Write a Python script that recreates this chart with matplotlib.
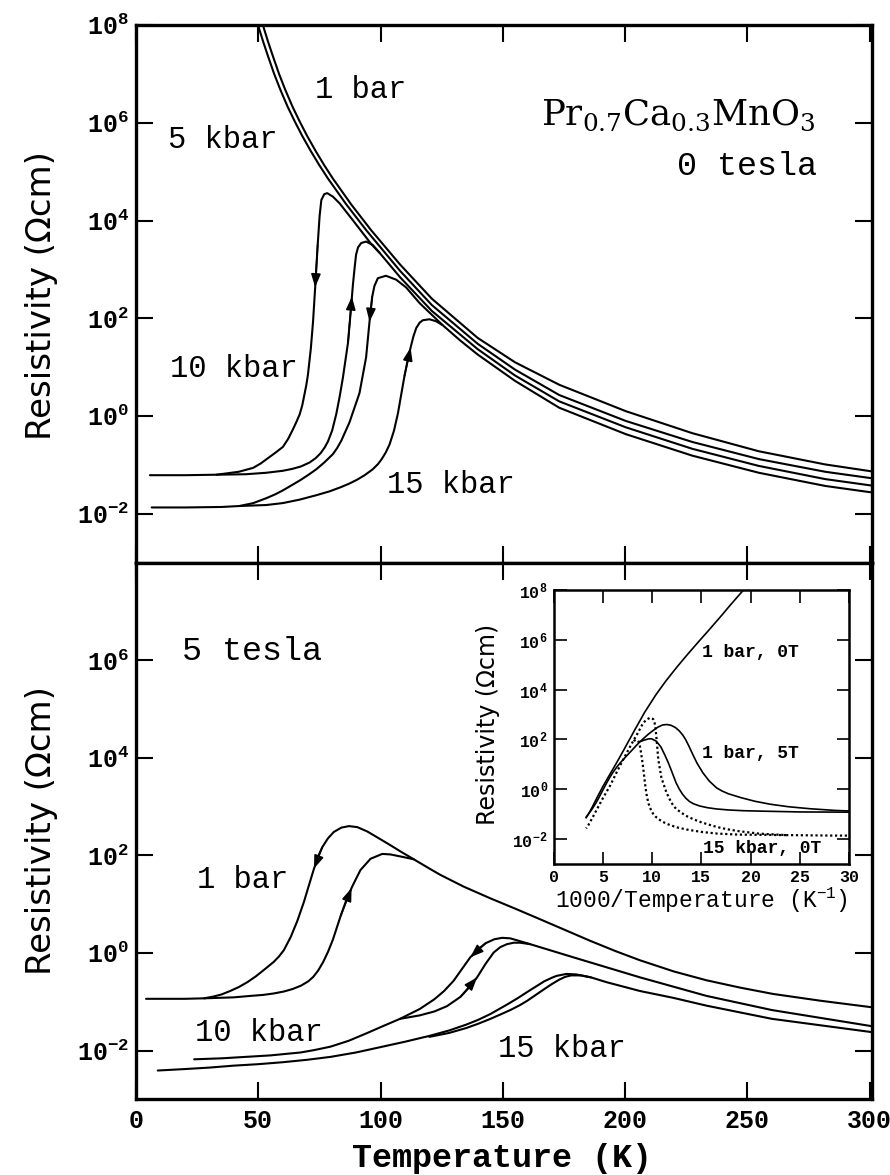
import numpy as np
import matplotlib
matplotlib.use("Agg")
import matplotlib.pyplot as plt
from matplotlib.ticker import FixedLocator, NullLocator, LogFormatterMathtext

# ---------------- data: temperature (K) and log10 resistivity (Ohm cm) ----------------
# ---- 0 tesla ----
T_1bar_0T = [51.6, 52.5, 54.0, 56.0, 58.5, 61.0, 64.0, 67.0, 70.0, 73.5, 77.0, 80.5, 88.0, 96.2,
             108.0, 121.0, 139.7, 155.0, 173.1, 200.3, 227.5, 254.7, 281.9, 302.0]
lr_1bar_0T = [8.05, 7.90, 7.66, 7.36, 7.00, 6.68, 6.33, 6.02, 5.73, 5.42, 5.13, 4.86, 4.33, 3.80,
              3.10, 2.40, 1.60, 1.10, 0.64, 0.10, -0.35, -0.72, -0.99, -1.14]

T_5kbar_0T = [49.6, 50.5, 52.0, 54.0, 56.5, 59.0, 62.0, 65.0, 68.0, 71.5, 75.0, 78.5, 86.0, 94.2,
              108.0, 121.0, 139.7, 155.0, 173.1, 200.3, 227.5, 254.7, 281.9, 302.0]
lr_5kbar_0T = [8.05, 7.90, 7.66, 7.36, 7.00, 6.68, 6.33, 6.02, 5.73, 5.42, 5.13, 4.86, 4.33, 3.80,
               2.97, 2.27, 1.48, 0.95, 0.43, -0.10, -0.53, -0.88, -1.14, -1.28]

T_10kbar_0T_cool = [5.7, 20.0, 32.9, 42.0, 47.9, 51.0, 54.0, 57.0, 60.1, 62.3, 64.2, 65.6, 66.9,
                    68.0, 68.8, 69.6, 70.3, 71.5, 72.4, 73.5, 74.3, 75.1, 75.8, 77.0, 78.2, 80.5,
                    83.3, 88.0, 96.2, 99.6, 108.0, 121.0, 139.7, 155.0, 173.1, 200.3, 227.5, 254.7,
                    281.9, 302.0]
lr_10kbar_0T_cool = [-1.21, -1.21, -1.20, -1.14, -1.06, -0.97, -0.86, -0.75, -0.63, -0.46, -0.27,
                     -0.12, 0.03, 0.22, 0.42, 0.62, 0.84, 1.38, 1.93, 2.81, 3.50, 4.10, 4.42, 4.54,
                     4.56, 4.49, 4.35, 4.05, 3.52, 3.34, 2.84, 2.15, 1.37, 0.83, 0.30, -0.23, -0.67,
                     -1.02, -1.29, -1.43]

T_10kbar_0T_warm = [32.9, 45.0, 53.3, 60.0, 64.0, 67.5, 71.0, 73.5, 75.5, 77.2, 78.5, 80.2, 81.9,
                    83.3, 84.6, 86.7, 88.0, 88.7, 89.4, 90.0, 90.8, 92.1, 94.1, 96.8, 99.6]
lr_10kbar_0T_warm = [-1.20, -1.19, -1.16, -1.12, -1.08, -1.03, -0.95, -0.86, -0.76, -0.64, -0.52,
                     -0.30, 0.04, 0.40, 0.78, 1.50, 2.25, 2.68, 3.03, 3.30, 3.45, 3.54, 3.57, 3.50,
                     3.34]

T_15kbar_0T_cool = [6.4, 20.0, 35.0, 42.4, 48.0, 53.3, 57.0, 60.1, 63.5, 66.9, 70.3, 73.7, 77.0,
                    80.5, 82.2, 84.0, 87.3, 91.4, 94.1, 95.5, 96.6, 97.5, 98.9, 102.2, 106.4, 110.5,
                    116.0, 125.4, 132.5, 139.7, 155.0, 173.1, 200.3, 227.5, 254.7, 281.9, 302.0]
lr_15kbar_0T_cool = [-1.87, -1.87, -1.86, -1.84, -1.78, -1.68, -1.60, -1.52, -1.42, -1.32, -1.21,
                     -1.09, -0.95, -0.78, -0.66, -0.50, -0.13, 0.47, 1.20, 1.93, 2.44, 2.66, 2.82,
                     2.87, 2.79, 2.63, 2.31, 1.86, 1.55, 1.26, 0.72, 0.17, -0.37, -0.81, -1.16,
                     -1.43, -1.57]

T_15kbar_0T_warm = [42.4, 53.3, 60.1, 66.9, 73.7, 79.2, 84.0, 87.3, 90.5, 93.5, 96.8, 99.0, 100.5,
                    102.2, 103.7, 105.5, 107.1, 108.5, 109.8, 111.1, 112.3, 113.4, 114.6, 116.0,
                    117.3, 120.0, 122.7, 125.4]
lr_15kbar_0T_warm = [-1.84, -1.82, -1.78, -1.71, -1.62, -1.54, -1.45, -1.38, -1.30, -1.21, -1.09,
                     -0.98, -0.88, -0.74, -0.58, -0.30, 0.05, 0.45, 0.82, 1.14, 1.40, 1.62, 1.80,
                     1.91, 1.96, 1.98, 1.94, 1.86]

# ---- 5 tesla ----
T_1bar_5T_cool = [4.1, 20.0, 27.9, 32.0, 35.0, 38.5, 42.0, 45.5, 49.0, 52.5, 56.4, 58.5, 60.5,
                  63.3, 66.0, 68.7, 70.5, 72.8, 74.5, 76.2, 78.5, 80.9, 84.0, 87.1, 90.5, 94.6,
                  100.0, 104.0, 108.2, 113.6, 116.3, 120.0, 124.5, 134.0, 144.9, 155.0, 165.3,
                  175.5, 185.7, 196.0, 206.1, 220.0, 233.3, 247.0, 260.5, 280.0, 302.0]
lr_1bar_5T_cool = [-0.94, -0.94, -0.93, -0.89, -0.85, -0.78, -0.70, -0.60, -0.48, -0.34, -0.18,
                   -0.07, 0.06, 0.33, 0.66, 1.05, 1.35, 1.73, 1.98, 2.17, 2.35, 2.48, 2.57, 2.60,
                   2.58, 2.49, 2.33, 2.21, 2.08, 1.92, 1.84, 1.73, 1.60, 1.36, 1.12, 0.91, 0.69,
                   0.47, 0.25, 0.04, -0.15, -0.38, -0.56, -0.71, -0.84, -0.98, -1.12]

T_1bar_5T_warm = [27.9, 40.0, 46.9, 52.0, 56.4, 60.5, 64.0, 67.5, 70.5, 72.5, 74.5, 76.5, 78.5,
                  80.5, 83.7, 86.0, 88.4, 91.8, 95.9, 100.7, 104.0, 108.0, 113.6]
lr_1bar_5T_warm = [-0.93, -0.91, -0.88, -0.86, -0.83, -0.79, -0.74, -0.67, -0.58, -0.49, -0.36,
                   -0.19, 0.02, 0.27, 0.76, 1.08, 1.36, 1.70, 1.93, 2.03, 2.02, 1.98, 1.92]

T_10kbar_5T_cool = [23.8, 35.0, 45.0, 55.0, 67.3, 73.0, 79.6, 87.0, 94.6, 101.0, 108.0, 116.0,
                    122.0, 126.0, 129.9, 133.0, 136.7, 140.0, 143.0, 146.5, 149.7, 153.0, 155.8,
                    161.2, 178.9, 206.1, 233.3, 260.0, 302.0]
lr_10kbar_5T_cool = [-2.18, -2.16, -2.13, -2.10, -2.04, -1.99, -1.92, -1.80, -1.64, -1.50, -1.35,
                     -1.15, -0.95, -0.78, -0.57, -0.35, -0.09, 0.08, 0.20, 0.28, 0.31, 0.30, 0.26,
                     0.18, -0.09, -0.50, -0.88, -1.17, -1.51]

T_10kbar_5T_warm = [108.0, 116.0, 122.0, 127.2, 132.7, 136.0, 139.5, 143.0, 146.3, 149.0, 151.7,
                    154.5, 157.1, 161.2]
lr_10kbar_5T_warm = [-1.35, -1.28, -1.20, -1.09, -0.90, -0.72, -0.50, -0.22, 0.01, 0.12, 0.18,
                     0.21, 0.21, 0.18]

T_15kbar_5T_cool = [8.9, 20.0, 30.0, 40.0, 50.0, 60.0, 70.0, 79.6, 90.0, 100.0, 110.0, 120.0,
                    128.0, 135.0, 140.0, 145.0, 152.0, 156.0, 160.0, 163.5, 167.0, 170.0, 172.0,
                    176.0, 180.0, 186.0, 192.5, 206.1, 219.7, 233.3, 260.0, 302.0]
lr_15kbar_5T_cool = [-2.41, -2.38, -2.35, -2.31, -2.28, -2.24, -2.19, -2.13, -2.04, -1.93, -1.82,
                     -1.70, -1.59, -1.47, -1.37, -1.25, -1.05, -0.93, -0.80, -0.69, -0.58, -0.51,
                     -0.47, -0.43, -0.44, -0.50, -0.60, -0.78, -0.92, -1.08, -1.35, -1.63]

T_15kbar_5T_warm = [120.0, 128.0, 135.0, 140.0, 145.0, 150.0, 153.5, 157.0, 160.0, 163.5, 167.0,
                    170.0, 173.0, 175.5, 178.0, 182.0, 186.0]
lr_15kbar_5T_warm = [-1.72, -1.64, -1.54, -1.45, -1.35, -1.24, -1.16, -1.07, -0.98, -0.86, -0.74,
                     -0.64, -0.55, -0.49, -0.46, -0.46, -0.50]

x_ticks = [0, 50, 100, 150, 200, 250, 300]
y_ticks_top = [1e-2, 1e0, 1e2, 1e4, 1e6, 1e8]
y_ticks_bot = [1e-2, 1e0, 1e2, 1e4, 1e6]
inset_x_ticks = [0, 5, 10, 15, 20, 25, 30]
inset_y_ticks = [1e-2, 1e0, 1e2, 1e4, 1e6, 1e8]

# ---------------- style ----------------
MONO = ['Liberation Mono', 'DejaVu Sans Mono']
plt.rcParams['font.family'] = MONO
plt.rcParams['mathtext.fontset'] = 'custom'
plt.rcParams['mathtext.rm'] = 'Liberation Mono'

W, H = 890, 1175
fig = plt.figure(figsize=(W / 100, H / 100), dpi=100)


def fx(px):
    return px / W


def fy(py):
    return 1 - py / H


LW = 1.5
ax1 = fig.add_axes([fx(136), fy(562.7), fx(872) - fx(136), fy(25) - fy(562.7)])
ax2 = fig.add_axes([fx(136), fy(1099.3), fx(872) - fx(136), fy(562.7) - fy(1099.3)])


def curve(ax, T, lr, **kw):
    ax.plot(T, 10 ** np.asarray(lr), color='k', lw=kw.pop('lw', LW), solid_joinstyle='round',
            solid_capstyle='round', **kw)


def arrow(ax, T, lr, k0, k1, f=1.0, ms=13):
    x0, y0 = T[k0], lr[k0]
    x1 = x0 + f * (T[k1] - x0)
    y1 = y0 + f * (lr[k1] - y0)
    ax.annotate('', xy=(x1, 10 ** y1), xytext=(x0, 10 ** y0),
                arrowprops=dict(arrowstyle='-|>,head_length=0.6,head_width=0.22', color='k',
                                lw=1.2, shrinkA=0, shrinkB=0, mutation_scale=ms))


# top panel: 0 tesla
curve(ax1, T_1bar_0T, lr_1bar_0T)
curve(ax1, T_5kbar_0T, lr_5kbar_0T)
curve(ax1, T_10kbar_0T_cool, lr_10kbar_0T_cool)
curve(ax1, T_10kbar_0T_warm, lr_10kbar_0T_warm)
curve(ax1, T_15kbar_0T_cool, lr_15kbar_0T_cool)
curve(ax1, T_15kbar_0T_warm, lr_15kbar_0T_warm)
arrow(ax1, T_10kbar_0T_cool, lr_10kbar_0T_cool, 20, 18, 0.55)
arrow(ax1, T_10kbar_0T_warm, lr_10kbar_0T_warm, 15, 17, 0.8)
arrow(ax1, T_15kbar_0T_cool, lr_15kbar_0T_cool, 20, 19, 1.0)
arrow(ax1, T_15kbar_0T_warm, lr_15kbar_0T_warm, 18, 20, 1.0)

# bottom panel: 5 tesla
curve(ax2, T_1bar_5T_cool, lr_1bar_5T_cool)
curve(ax2, T_1bar_5T_warm, lr_1bar_5T_warm)
curve(ax2, T_10kbar_5T_cool, lr_10kbar_5T_cool)
curve(ax2, T_10kbar_5T_warm, lr_10kbar_5T_warm)
curve(ax2, T_15kbar_5T_cool, lr_15kbar_5T_cool)
curve(ax2, T_15kbar_5T_warm, lr_15kbar_5T_warm)
arrow(ax2, T_1bar_5T_cool, lr_1bar_5T_cool, 19, 17, 1.0)
arrow(ax2, T_1bar_5T_warm, lr_1bar_5T_warm, 14, 16, 0.95)
arrow(ax2, T_10kbar_5T_cool, lr_10kbar_5T_cool, 18, 16, 1.0)
arrow(ax2, T_10kbar_5T_warm, lr_10kbar_5T_warm, 4, 6, 1.0)

for ax, yt in ((ax1, y_ticks_top), (ax2, y_ticks_bot)):
    ax.set_yscale('log')
    ax.set_xlim(0, 301)
    ax.set_ylim(1e-3, 1e8)
    ax.xaxis.set_major_locator(FixedLocator(x_ticks))
    ax.yaxis.set_major_locator(FixedLocator(yt))
    ax.yaxis.set_minor_locator(NullLocator())
    ax.xaxis.set_minor_locator(NullLocator())
    ax.yaxis.set_major_formatter(LogFormatterMathtext())
    ax.tick_params(direction='in', top=True, right=True, length=12, width=1.5,
                   labelsize=18, pad=5)
    for s in ax.spines.values():
        s.set_linewidth(2.4)
    for lab in ax.get_xticklabels() + ax.get_yticklabels():
        lab.set_fontweight('bold')
ax1.tick_params(labelbottom=False)
ax2.tick_params(axis='x', pad=7)

# axis labels
for yc in (296, 831):
    fig.text(fx(42), fy(yc), 'Resistivity (Ωcm)', family='DejaVu Sans', fontsize=24.5,
             rotation=90, ha='center', va='center')
fig.text(fx(502), fy(1167), 'Temperature (K)', fontsize=24, fontweight='bold',
         ha='center', va='baseline')

# annotations
ann = dict(fontsize=22, va='baseline')
fig.text(fx(315), fy(98), '1 bar', **ann)
fig.text(fx(168), fy(148), '5 kbar', **ann)
fig.text(fx(170), fy(377), '10 kbar', **ann)
fig.text(fx(387), fy(493), '15 kbar', **ann)
fig.text(fx(816), fy(125), r'Pr$_{\mathdefault{0.7}}$Ca$_{\mathdefault{0.3}}$MnO$_{\mathdefault{3}}$',
         family='DejaVu Serif', fontsize=25.5, ha='right', va='baseline')
fig.text(fx(817), fy(175), '0 tesla', fontsize=24, ha='right', va='baseline')

fig.text(fx(182), fy(660), '5 tesla', fontsize=24, va='baseline')
fig.text(fx(197), fy(888), '1 bar', **ann)
fig.text(fx(195), fy(1041), '10 kbar', **ann)
fig.text(fx(498), fy(1057), '15 kbar', **ann)

# ---------------- inset ----------------
axi = fig.add_axes([fx(553.5), fy(864), fx(849.3) - fx(553.5), fy(590) - fy(864)])
axi.set_facecolor('white')


def inv(T):
    return 1000.0 / np.asarray(T)


ILW = 1.2
DOT = (0, (1, 1.2))
axi.plot(inv(T_1bar_0T), 10 ** np.asarray(lr_1bar_0T), color='k', lw=ILW)
axi.plot(inv(T_1bar_5T_cool), 10 ** np.asarray(lr_1bar_5T_cool), color='k', lw=ILW)
axi.plot(inv(T_1bar_5T_warm), 10 ** np.asarray(lr_1bar_5T_warm), color='k', lw=ILW)
axi.plot(inv(T_15kbar_0T_cool), 10 ** np.asarray(lr_15kbar_0T_cool), color='k', lw=1.6, ls=DOT)
axi.plot(inv(T_15kbar_0T_warm), 10 ** np.asarray(lr_15kbar_0T_warm), color='k', lw=1.6, ls=DOT)
axi.set_yscale('log')
axi.set_xlim(0, 30)
axi.set_ylim(1e-3, 1e8)
axi.xaxis.set_major_locator(FixedLocator(inset_x_ticks))
axi.yaxis.set_major_locator(FixedLocator(inset_y_ticks))
axi.yaxis.set_minor_locator(NullLocator())
axi.xaxis.set_minor_locator(NullLocator())
axi.yaxis.set_major_formatter(LogFormatterMathtext())
axi.tick_params(direction='in', top=True, right=True, length=9, width=1.2, labelsize=12, pad=4)
for s in axi.spines.values():
    s.set_linewidth(1.8)
for lab in axi.get_xticklabels() + axi.get_yticklabels():
    lab.set_fontweight('bold')
fig.text(fx(701), fy(908), r'1000/Temperature (K$^{\mathdefault{-1}}$)', fontsize=16.5,
         ha='center', va='baseline')
fig.text(fx(488), fy(724), 'Resistivity (Ωcm)', family='DejaVu Sans', fontsize=17,
         rotation=90, ha='center', va='center')
iann = dict(fontsize=13, va='baseline', fontweight='bold')
fig.text(fx(702), fy(657), '1 bar, 0T', **iann)
fig.text(fx(702), fy(758), '1 bar, 5T', **iann)
fig.text(fx(703), fy(853), '15 kbar, 0T', **iann)

fig.savefig('out.png', dpi=100)
